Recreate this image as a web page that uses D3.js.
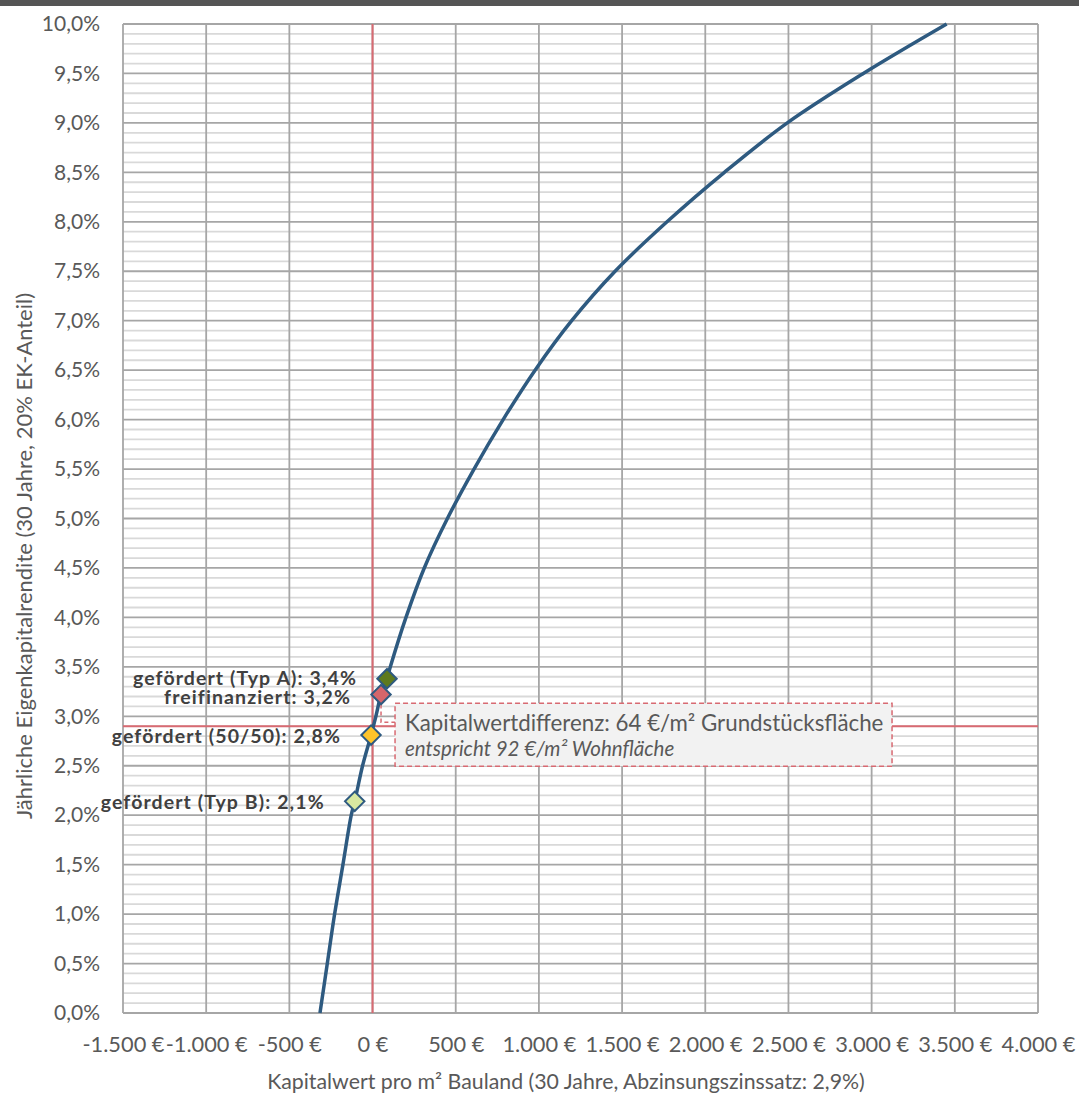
<!DOCTYPE html>
<html><head><meta charset="utf-8">
<script src="https://cdn.jsdelivr.net/npm/d3@7"></script>
<style>body{margin:0;background:#fff;} svg{display:block;font-family:Lato, "Open Sans", sans-serif;}</style>
</head><body><svg id="c" width="1079" height="1093"></svg>
<script>
// ---- data ----
const xTicks = [-1500,-1000,-500,0,500,1000,1500,2000,2500,3000,3500,4000];
const yTicks = [0,0.5,1,1.5,2,2.5,3,3.5,4,4.5,5,5.5,6,6.5,7,7.5,8,8.5,9,9.5,10];
const curveX = [-316,-272,-228,-178,-128,-107,-60,-9,20,51,87,107,201,311,450,610,785,977,1197,1458,1770,2115,2493,2950,3451];
const curveY = [0,0.5,1.0,1.5,2.0,2.14,2.5,2.81,3.0,3.22,3.38,3.5,4.0,4.5,5.0,5.5,6.0,6.5,7.0,7.5,8.0,8.5,9.0,9.5,10.0];
const markerLabels = ["gefördert (Typ A): 3,4%","freifinanziert: 3,2%","gefördert (50/50): 2,8%","gefördert (Typ B): 2,1%"];
const markerX = [87,51,-9,-107];
const markerY = [3.38,3.22,2.81,2.14];
const markerColors = ["#5e7a1e","#d5666b","#ffc42a","#d7e8a1"];
const refX = 0, refY = 2.9;
const noteLine1 = "Kapitalwertdifferenz: 64 €/m² Grundstücksfläche";
const noteLine2 = "entspricht 92 €/m² Wohnfläche";
const xTitle = "Kapitalwert pro m² Bauland (30 Jahre, Abzinsungszinssatz: 2,9%)";
const yTitle = "Jährliche Eigenkapitalrendite (30 Jahre, 20% EK-Anteil)";

// ---- layout ----
const svg = d3.select("#c");
const L=123, R=1038, T=24, B=1013;
const x = d3.scaleLinear().domain([-1500,4000]).range([L,R]);
const y = d3.scaleLinear().domain([0,10]).range([B,T]);
const de = d3.formatLocale({decimal:",", thousands:".", grouping:[3], currency:["","€"], minus:"-"});
const fx = v => de.format(",.0f")(v) + " €";
const fy = v => de.format(".1f")(v) + "%";

svg.append("rect").attr("x",0).attr("y",0).attr("width",1079).attr("height",6).attr("fill","#555");

// minor horizontal gridlines
const minor = d3.range(0,101).map(i=>i/10).filter(v=>Math.abs(v*2-Math.round(v*2))>1e-6);
svg.append("g").selectAll("line").data(minor).join("line")
  .attr("x1",L).attr("x2",R).attr("y1",d=>y(d)).attr("y2",d=>y(d))
  .attr("stroke","#d9d9d9").attr("stroke-width",1.8);
// major horizontal
svg.append("g").selectAll("line").data(yTicks).join("line")
  .attr("x1",L).attr("x2",R).attr("y1",d=>y(d)).attr("y2",d=>y(d))
  .attr("stroke","#a6a6a6").attr("stroke-width",1.8);
// vertical
svg.append("g").selectAll("line").data(xTicks).join("line")
  .attr("x1",d=>x(d)).attr("x2",d=>x(d)).attr("y1",T).attr("y2",B)
  .attr("stroke","#a6a6a6").attr("stroke-width",1.8);

// axes labels via d3 axes
const gx = svg.append("g").attr("transform",`translate(0,${B})`)
  .call(d3.axisBottom(x).tickValues(xTicks).tickFormat(fx).tickSize(0).tickPadding(24));
gx.select(".domain").remove();
gx.selectAll("text").attr("font-size",21.8).attr("fill","#595959").attr("font-family","Lato, sans-serif");
const gy = svg.append("g").attr("transform",`translate(${L},0)`)
  .call(d3.axisLeft(y).tickValues(yTicks).tickFormat(fy).tickSize(0).tickPadding(23));
gy.select(".domain").remove();
gy.selectAll("text").attr("font-size",21).attr("fill","#595959").attr("font-family","Lato, sans-serif");

// reference lines
svg.append("line").attr("x1",x(refX)).attr("x2",x(refX)).attr("y1",T).attr("y2",B)
  .attr("stroke","#d86a72").attr("stroke-width",2);
svg.append("line").attr("x1",L).attr("x2",R).attr("y1",y(refY)).attr("y2",y(refY))
  .attr("stroke","#d86a72").attr("stroke-width",2);

// curve
const pts = curveX.map((v,i)=>[v,curveY[i]]);
svg.append("path").datum(pts)
  .attr("d", d3.line().x(d=>x(d[0])).y(d=>y(d[1])).curve(d3.curveCatmullRom.alpha(0.5)))
  .attr("fill","none").attr("stroke","#2e5a80").attr("stroke-width",3.5);

// annotation box
const bx = x(refX)+22.5, by = y(refY)-23, bw = 497, bh = 63;
const fr = 1; // freifinanziert index
svg.append("path")
  .attr("d",`M${x(markerX[fr])},${y(markerY[fr])+10} L${x(markerX[fr])},${y(refY)-4} L${bx},${y(refY)-4}`)
  .attr("fill","none").attr("stroke","#d86a72").attr("stroke-width",1.5).attr("stroke-dasharray","4,3");
svg.append("rect").attr("x",bx).attr("y",by).attr("width",bw).attr("height",bh)
  .attr("fill","#f2f2f2").attr("stroke","#d86a72").attr("stroke-width",1.5).attr("stroke-dasharray","5,3");
svg.append("text").attr("x",bx+10).attr("y",by+28).text(noteLine1)
  .attr("font-size",22.3).attr("fill","#595959");
svg.append("text").attr("x",bx+10).attr("y",by+53).text(noteLine2)
  .attr("font-size",20.5).attr("font-style","italic").attr("fill","#595959");

// markers
const sym = d3.symbol().type(d3.symbolDiamond2).size(240);
svg.append("g").selectAll("path").data(markerX).join("path")
  .attr("transform",(d,i)=>`translate(${x(d)},${y(markerY[i])})`)
  .attr("d",sym).attr("fill",(d,i)=>markerColors[i]).attr("stroke","#2e5a80").attr("stroke-width",2);
svg.append("g").selectAll("text").data(markerLabels).join("text")
  .attr("x",(d,i)=>x(markerX[i])-30).attr("y",(d,i)=>y(markerY[i]) + (i===0?-1:i===1?3:1)).attr("dy","0.35em")
  .attr("text-anchor","end").attr("font-weight","bold").attr("font-size",19.5)
  .attr("letter-spacing",1.1).attr("fill","#404040")
  .text(d=>d);

// titles
svg.append("text").attr("x",566).attr("y",1089).attr("text-anchor","middle")
  .attr("font-size",21.3).attr("fill","#595959").text(xTitle);
svg.append("text").attr("transform","translate(32,556) rotate(-90)").attr("text-anchor","middle")
  .attr("font-size",22).attr("fill","#595959").text(yTitle);
</script></body></html>
